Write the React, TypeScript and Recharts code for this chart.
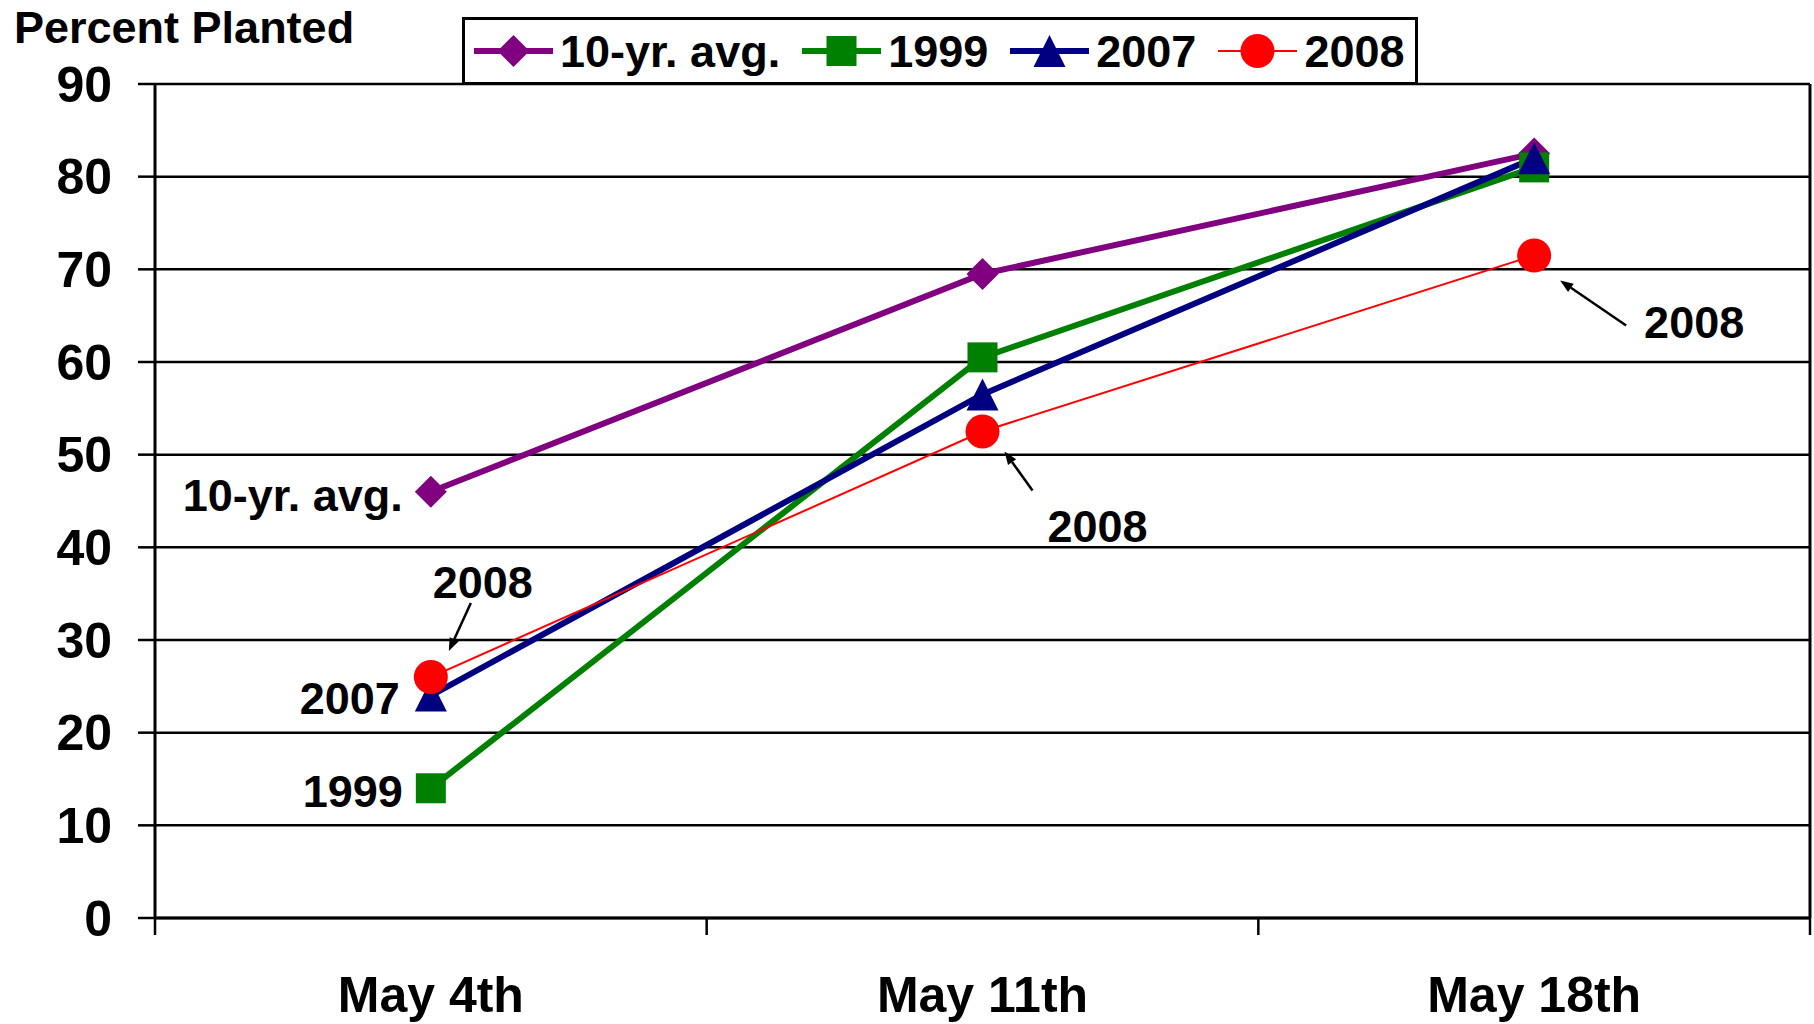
import React from "react";
import { LineChart, Line, XAxis, YAxis, CartesianGrid, Legend } from "recharts";

const WEEKS = ["May 4th", "May 11th", "May 18th"];
const AVG_10YR = [46, 69.5, 82.5];
const Y1999 = [14, 60.5, 81];
const Y2007 = [24, 56.5, 82];
const Y2008 = [26, 52.5, 71.5];
const Y_TICKS = [0, 10, 20, 30, 40, 50, 60, 70, 80, 90];

const FONT = "'Liberation Sans', Arial, sans-serif";

const data = WEEKS.map((week, i) => ({
  week,
  avg: AVG_10YR[i],
  y1999: Y1999[i],
  y2007: Y2007[i],
  y2008: Y2008[i],
}));

type Shape = "diamond" | "square" | "triangle" | "circle";

const SERIES: { key: string; name: string; color: string; width: number; shape: Shape; size: number }[] = [
  { key: "avg", name: "10-yr. avg.", color: "#800080", width: 6, shape: "diamond", size: 32 },
  { key: "y1999", name: "1999", color: "#008000", width: 6, shape: "square", size: 30 },
  { key: "y2007", name: "2007", color: "#000080", width: 6, shape: "triangle", size: 32 },
  { key: "y2008", name: "2008", color: "#FF0000", width: 2, shape: "circle", size: 34 },
];

// callout text next to points, offsets relative to the point
type Note = { text: string; dx: number; dy: number; anchor: "start" | "middle" | "end"; arrow?: number[] } | null;
const NOTES: Record<string, Note[]> = {
  avg: [{ text: "10-yr. avg.", dx: -28, dy: 19, anchor: "end" }, null, null],
  y1999: [{ text: "1999", dx: -28, dy: 19, anchor: "end" }, null, null],
  y2007: [{ text: "2007", dx: -31, dy: 18, anchor: "end" }, null, null],
  y2008: [
    { text: "2008", dx: 52, dy: -79, anchor: "middle", arrow: [40, -74, 18, -26] },
    { text: "2008", dx: 115, dy: 110, anchor: "middle", arrow: [50, 59, 22, 20] },
    { text: "2008", dx: 160, dy: 83, anchor: "middle", arrow: [92, 70, 26, 25] },
  ],
};

function Marker({ shape, cx, cy, color, size }: { shape: Shape; cx: number; cy: number; color: string; size: number }) {
  const h = size / 2;
  if (shape === "diamond")
    return <polygon points={`${cx},${cy - h} ${cx + h},${cy} ${cx},${cy + h} ${cx - h},${cy}`} fill={color} />;
  if (shape === "square") return <rect x={cx - h} y={cy - h} width={size} height={size} fill={color} />;
  if (shape === "triangle")
    return <polygon points={`${cx},${cy - h} ${cx + h},${cy + h} ${cx - h},${cy + h}`} fill={color} />;
  return <circle cx={cx} cy={cy} r={h} fill={color} />;
}

function Arrow({ x1, y1, x2, y2 }: { x1: number; y1: number; x2: number; y2: number }) {
  const a = Math.atan2(y2 - y1, x2 - x1);
  const len = 13;
  const w = 5;
  const bx = x2 - len * Math.cos(a);
  const by = y2 - len * Math.sin(a);
  const px = -Math.sin(a) * w;
  const py = Math.cos(a) * w;
  return (
    <g>
      <line x1={x1} y1={y1} x2={bx} y2={by} stroke="#000" strokeWidth={2.5} />
      <polygon points={`${x2},${y2} ${bx + px},${by + py} ${bx - px},${by - py}`} fill="#000" />
    </g>
  );
}

function noteLabel(key: string) {
  return (props: any) => {
    const { x, y, index } = props;
    const note = NOTES[key]?.[index];
    if (!note) return <g key={`${key}-n-${index}`} />;
    const arrow = note.arrow;
    return (
      <g key={`${key}-n-${index}`}>
        {arrow && <Arrow x1={x + arrow[0]} y1={y + arrow[1]} x2={x + arrow[2]} y2={y + arrow[3]} />}
        <text
          x={x + note.dx}
          y={y + note.dy}
          textAnchor={note.anchor}
          fontFamily={FONT}
          fontWeight={700}
          fontSize={45}
          fill="#000"
        >
          {note.text}
        </text>
      </g>
    );
  };
}

function WeekTick(props: any) {
  const { x, y, payload, index, visibleTicksCount, width } = props;
  const half = payload?.offset || width / visibleTicksCount / 2;
  return (
    <g>
      <line x1={x - half} x2={x - half} y1={y} y2={y + 17} stroke="#000" strokeWidth={2.5} />
      {index === visibleTicksCount - 1 && (
        <line x1={x + half} x2={x + half} y1={y} y2={y + 17} stroke="#000" strokeWidth={2.5} />
      )}
      <text x={x} y={y + 94} textAnchor="middle" fontFamily={FONT} fontWeight={700} fontSize={50} fill="#000">
        {payload.value}
      </text>
    </g>
  );
}

function LegendBox(props: any) {
  const items = (props.payload || []) as any[];
  return (
    <div
      style={{
        boxSizing: "border-box",
        width: 956,
        height: 68,
        border: "3px solid #000",
        background: "#fff",
        display: "flex",
        alignItems: "center",
        paddingLeft: 9,
        fontFamily: FONT,
        fontWeight: 700,
        fontSize: 45,
        color: "#000",
        whiteSpace: "nowrap",
      }}
    >
      {items.map((it) => {
        const s = SERIES.find((d) => d.key === it.dataKey) || SERIES[0];
        return (
          <div key={s.key} style={{ display: "flex", alignItems: "center", marginRight: 22, flexShrink: 0 }}>
            <svg width={79} height={40} style={{ marginRight: 7, flexShrink: 0 }}>
              <line x1={0} x2={79} y1={20} y2={20} stroke={s.color} strokeWidth={s.width} />
              <Marker shape={s.shape} cx={39.5} cy={20} color={s.color} size={s.size} />
            </svg>
            <span style={{ lineHeight: "45px", whiteSpace: "nowrap" }}>{s.name}</span>
          </div>
        );
      })}
    </div>
  );
}

export default function App() {
  return (
    <div style={{ position: "absolute", left: 0, top: 0, width: 1814, height: 1024, background: "#fff" }}>
      <div
        style={{
          position: "absolute",
          left: 14,
          top: 5,
          fontFamily: FONT,
          fontWeight: 700,
          fontSize: 45,
          lineHeight: "45px",
          color: "#000",
          zIndex: 2,
          whiteSpace: "nowrap",
        }}
      >
        Percent Planted
      </div>
      <LineChart width={1814} height={1024} data={data} margin={{ top: 84, right: 0, bottom: 0, left: 0 }}>
        <CartesianGrid vertical={false} stroke="#000" strokeWidth={2.5} strokeOpacity={1} />
        <XAxis
          dataKey="week"
          scale="band"
          height={106}
          interval={0}
          tickLine={false}
          tickSize={0}
          tickMargin={0}
          axisLine={{ stroke: "#000", strokeWidth: 3 }}
          tick={<WeekTick />}
        />
        <YAxis
          domain={[0, 90]}
          ticks={Y_TICKS}
          interval={0}
          width={155}
          tickSize={17}
          tickMargin={26}
          axisLine={{ stroke: "#000", strokeWidth: 3 }}
          tickLine={{ stroke: "#000", strokeWidth: 2.5 }}
          tick={{ fontSize: 50, fontWeight: 700, fill: "#000", fontFamily: FONT }}
        />
        <YAxis
          yAxisId="right"
          orientation="right"
          domain={[0, 90]}
          width={4}
          tick={false}
          tickLine={false}
          axisLine={{ stroke: "#000", strokeWidth: 3 }}
        />
        <Legend
          layout="horizontal"
          verticalAlign="middle"
          align="center"
          wrapperStyle={{ top: 17, left: 462, width: "auto", height: "auto" }}
          content={<LegendBox />}
        />
        {SERIES.map((s) => (
          <Line
            key={s.key}
            type="linear"
            dataKey={s.key}
            name={s.name}
            stroke={s.color}
            strokeWidth={s.width}
            isAnimationActive={false}
            dot={(p: any) => (
              <Marker key={`${s.key}-d-${p.index}`} shape={s.shape} cx={p.cx} cy={p.cy} color={s.color} size={s.size} />
            )}
            activeDot={false}
            label={noteLabel(s.key)}
          />
        ))}
      </LineChart>
    </div>
  );
}
